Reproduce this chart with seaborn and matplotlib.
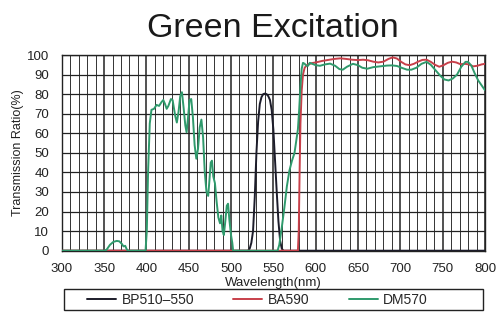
import numpy as np
import pandas as pd
import matplotlib
matplotlib.use("Agg")
import matplotlib.pyplot as plt
import seaborn as sns
from matplotlib.ticker import MultipleLocator
from matplotlib.patches import Rectangle

# BP510-550 (black)
bp_wl = [300, 520, 522, 524, 526, 528, 530, 532, 534, 536, 538, 540, 542, 544,
         546, 548, 550, 552, 554, 556, 558, 560, 562, 800]
bp_t = [0, 0, 1, 4, 10, 27, 50, 66, 75, 78.5, 80, 80.3, 80, 79,
        77, 72, 62, 46, 30, 15, 5, 1, 0, 0]

# BA590 (red)
ba_wl = [300, 579, 580, 581, 582, 583.5, 585, 587, 590, 595, 601, 608, 615, 622,
         629, 636, 643, 650, 656, 662, 668, 674, 680, 686, 691, 696, 701, 706,
         711, 716, 721, 726, 731, 736, 741, 746, 751, 756, 761, 766, 771, 776,
         781, 786, 791, 796, 800]
ba_t = [0, 0, 10, 40, 65, 82, 90, 93.5, 95, 95.8, 96.3, 97, 97.5, 98,
        98.3, 98, 97.6, 97.4, 97.6, 97.3, 96.6, 96.2, 96.6, 98, 98.8, 98.2, 96.5, 95.2,
        94.8, 95.5, 96.6, 97.5, 97.6, 96.5, 95, 94, 94.8, 96, 96.6, 96.2, 95.3, 95.5,
        95.2, 94.2, 94.5, 95.2, 95.5]

# DM570 (green)
dm_wl = [300, 350, 353, 357, 361, 365, 368, 371, 373, 375, 376.5, 378, 399,
         400.5, 402, 404, 406, 409, 412, 415, 418, 420, 422, 424, 426, 429, 431,
         434, 436, 438, 440, 442, 444, 446, 447.5, 449, 451, 453, 455, 457, 459,
         461, 463, 465, 467, 469, 471, 473, 474.5, 476, 477.5, 479, 481, 483, 485,
         487, 488.5, 490, 491.5, 493, 495, 496.5, 498, 500, 501.5, 502.5, 555,
         557, 560, 563, 566, 569, 572, 575, 577, 579, 580.5, 582, 583.5, 585, 587,
         589, 591, 593, 596, 600, 605, 611, 617, 623, 628, 632, 637, 644, 650,
         655, 661, 668, 676, 684, 690, 696, 702, 708, 713, 719, 725, 731, 736,
         741, 747, 752, 757, 762, 767, 772, 777, 780, 784, 788, 792, 796, 800]
dm_t = [0, 0, 0.5, 3, 4.5, 5, 4.8, 3.5, 2.2, 2.5, 1, 0, 0,
        10, 40, 65, 72, 72.5, 74.5, 74, 76, 77, 75, 72.5, 74, 77.5, 77,
        69, 65.5, 71, 79, 81, 73, 64, 60.5, 67, 77, 77.5, 68, 54, 47,
        52, 63, 67, 58, 40, 30, 28, 36, 45, 46, 38, 34.5, 25, 17,
        14, 18, 10, 8, 14, 23, 24, 16, 8, 4, 0, 0,
        3, 12, 22, 33, 41, 46, 50, 56, 62, 72, 84, 93, 96, 95.5,
        94.5, 94.5, 96, 95.5, 94.8, 94.5, 95.2, 95.6, 94.5, 92.8, 92.5, 94, 95.5, 94.8,
        93.5, 93, 93.8, 94.2, 94.6, 94.7, 94.4, 93.4, 92.5, 92.5, 93.5, 95.5, 96.5, 95,
        92.5, 89.5, 87.5, 87, 88, 90, 94, 96.5, 96.5, 94.5, 90.5, 87, 84.5, 82]

names = ["BP510\u2013550", "BA590", "DM570"]
colors = {names[0]: "#1c1c2a", names[1]: "#c8404a", names[2]: "#2f9a6c"}

df = pd.concat([
    pd.DataFrame({"wl": bp_wl, "t": bp_t, "filter": names[0]}),
    pd.DataFrame({"wl": ba_wl, "t": ba_t, "filter": names[1]}),
    pd.DataFrame({"wl": dm_wl, "t": dm_t, "filter": names[2]}),
], ignore_index=True)

sns.set_style("white")
plt.rcParams["font.family"] = ["Liberation Sans", "DejaVu Sans"]

fig = plt.figure(figsize=(5.03, 3.14), dpi=100)
ax = fig.add_axes([0.1227, 0.2016, 0.8415, 0.6232])

sns.lineplot(data=df, x="wl", y="t", hue="filter", palette=colors,
             hue_order=names, sort=False, estimator=None, units="filter",
             linewidth=1.4, ax=ax, legend=True, zorder=3)

ax.set_xlim(300, 800)
ax.set_ylim(0, 100)
ax.xaxis.set_major_locator(MultipleLocator(50))
ax.xaxis.set_minor_locator(MultipleLocator(10))
ax.yaxis.set_major_locator(MultipleLocator(10))
ax.grid(which="major", axis="x", color="#222222", linewidth=1.1, zorder=0)
ax.grid(which="minor", axis="x", color="#333333", linewidth=0.7, zorder=0)
ax.grid(which="major", axis="y", color="#222222", linewidth=0.9, zorder=0)
ax.set_axisbelow(True)
for sp in ax.spines.values():
    sp.set_color("#222222")
    sp.set_linewidth(1.0)

ax.tick_params(axis="y", which="major", labelsize=9.5, length=0, color="#222222",
               labelcolor="#222222", pad=9)
ax.tick_params(axis="x", which="major", labelsize=9.5, length=2.5, color="#222222",
               labelcolor="#222222", pad=9, direction="in")
ax.tick_params(axis="x", which="minor", length=2.5, color="#222222", direction="in")

ax.set_xlabel("Wavelength(nm)", fontsize=9.5, color="#222222", labelpad=1)
ax.set_ylabel("Transmission Ratio(%)", fontsize=9, color="#222222", labelpad=2)
ax.set_title("Green Excitation", fontsize=24.5, color="#1a1a1a", pad=13)

handles, labels = ax.get_legend_handles_labels()
ax.get_legend().remove()
for h in handles:
    h.set_linewidth(1.4)
leg = fig.legend(handles, labels, ncol=3, loc="center",
                 bbox_to_anchor=(0.512, 0.046), bbox_transform=fig.transFigure,
                 fontsize=10, frameon=False, handlelength=2.1,
                 columnspacing=2.8, handletextpad=0.4, borderpad=0)
fig.patches.append(Rectangle((64 / 503, 1 - 310 / 314), 419 / 503, 21 / 314,
                             transform=fig.transFigure, fill=False,
                             edgecolor="#222222", linewidth=1.0))

fig.savefig("out.png", dpi=100, facecolor="white")
